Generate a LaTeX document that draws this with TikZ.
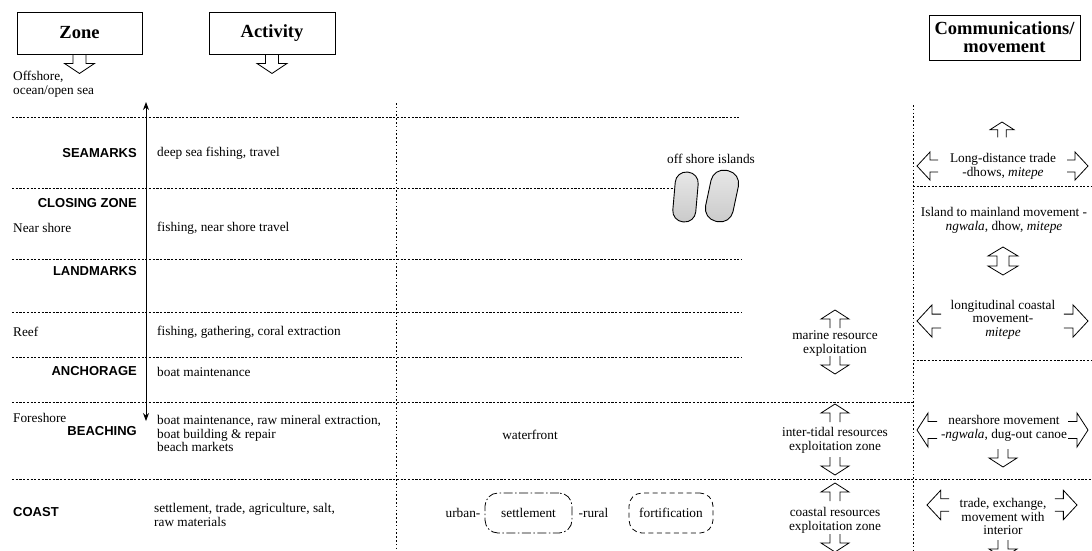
\documentclass[tikz,border=0pt]{standalone}
\usepackage{fontspec}
\setmainfont{Liberation Serif}
\newfontfamily\lsans{Liberation Sans}
\usetikzlibrary{arrows.meta}
\tikzset{
  body/.style={font=\fontsize{13.3}{13.6}\selectfont, inner sep=0pt},
  zlbl/.style={font=\lsans\bfseries\fontsize{13}{14}\selectfont, inner sep=0pt},
  ttl/.style={font=\bfseries\fontsize{18.5}{18}\selectfont, inner sep=0pt, draw, line width=0.9pt},
  hgrid/.style={line width=0.75pt, dash pattern=on 2.2pt off 1.5pt},
  vgrid/.style={line width=0.9pt, dash pattern=on 1.6pt off 2.2pt},
  oarr/.style={line width=0.8pt, line join=miter},
  island/.style={line width=0.9pt, top color=gray!18, bottom color=gray!42},
  arrTitle/.pic={\draw[oarr] (-6.5,0) -- (-6.5,9) -- (-15,9) -- (0,19) -- (15,9) -- (6.5,9) -- (6.5,0);},
  arrUp/.pic={\draw[oarr] (-5,18) -- (-5,9) -- (-14,9) -- (0,0) -- (14,9) -- (5,9) -- (5,18);},
  arrDown/.pic={\draw[oarr] (-5,0) -- (-5,9) -- (-14,9) -- (0,18) -- (14,9) -- (5,9) -- (5,0);},
  arrLeft/.pic={\draw[oarr] (21,-6) -- (13,-6) -- (13,-14) -- (0,0) -- (13,14) -- (13,6) -- (21,6);},
  arrRight/.pic={\draw[oarr] (-21,-6) -- (-13,-6) -- (-13,-14) -- (0,0) -- (-13,14) -- (-13,6) -- (-21,6);},
  arrLeftW/.pic={\draw[oarr] (20,-8.5) -- (11,-8.5) -- (11,-17) -- (0,0) -- (11,17) -- (11,8.5) -- (20,8.5);},
  arrRightW/.pic={\draw[oarr] (-20,-8.5) -- (-11,-8.5) -- (-11,-17) -- (0,0) -- (-11,17) -- (-11,8.5) -- (-20,8.5);},
  arrUD/.pic={\draw[oarr] (0,0) -- (15,9) -- (6,9) -- (6,19) -- (15,19) -- (0,28) -- (-15,19) -- (-6,19) -- (-6,9) -- (-15,9) -- cycle;},
}
\begin{document}
\begin{tikzpicture}[x=1pt, y=-1pt]
\useasboundingbox (0,0) rectangle (1092,550);
\fill[white] (0,0) rectangle (1092,550);

% title boxes
\node[ttl, minimum width=125pt, minimum height=42pt] (zone) at (79.5,33) {Zone};
\node[ttl, minimum width=126pt, minimum height=42pt] (activity) at (272,33) {Activity};
\node[ttl, minimum width=151pt, minimum height=45pt, align=center, font=\bfseries\fontsize{18.5}{18}\selectfont] (comm) at (1004.5,37.5) {Communications/\\movement};
\pic (za) at (zone.south) {arrTitle};
\pic (aa) at (activity.south) {arrTitle};

% grid lines
\draw[hgrid] (12,117) -- (740,117);
\draw[hgrid] (12,188) -- (674,188);
\draw[hgrid] (913,186) -- (1092,186);
\draw[hgrid] (12,259) -- (742,259);
\draw[hgrid] (12,312) -- (742,312);
\draw[hgrid] (12,357) -- (742,357);
\draw[hgrid] (913,360) -- (1092,360);
\draw[hgrid] (12,402) -- (913,402);
\draw[hgrid] (12,479) -- (1092,479);
\draw[vgrid] (396,103) -- (396,550);
\draw[vgrid] (913,105) -- (913,550);

% vertical zone arrow
\coordinate (atop) at (146,102);
\coordinate (abot) at (146,421);
\draw[line width=0.9pt, {Stealth[length=8pt,width=6pt]}-{Stealth[length=8pt,width=6pt]}] (atop) -- (abot);

% zone column
\node[body, anchor=west, align=left] (off) at (13,84) {Offshore,\\ocean/open sea};
\node[zlbl, anchor=east] (seam) at (137,153) {SEAMARKS};
\node[zlbl, anchor=east] (clos) at (137,203) {CLOSING ZONE};
\node[body, anchor=west] (near) at (13,228) {Near shore};
\node[zlbl, anchor=east] (land) at (137,271) {LANDMARKS};
\node[body, anchor=west] (reef) at (13,332) {Reef};
\node[zlbl, anchor=east] (anch) at (137,371) {ANCHORAGE};
\node[body, anchor=west] (fore) at (13,418) {Foreshore};
\node[zlbl, anchor=east] (beach) at (137,431) {BEACHING};
\node[zlbl, anchor=west] (coast) at (13,512) {COAST};

% activity column
\node[body, anchor=west] (act1) at (157,153) {deep sea fishing, travel};
\node[body, anchor=west] (act2) at (157,228) {fishing, near shore travel};
\node[body, anchor=west] (act3) at (157,332) {fishing, gathering, coral extraction};
\node[body, anchor=west] (act4) at (157,372) {boat maintenance};
\node[body, anchor=west, align=left] (act5) at (157,433.5) {boat maintenance, raw mineral extraction,\\boat building \& repair\\beach markets};
\node[body, anchor=west, align=left] (act6) at (154,515) {settlement, trade, agriculture, salt,\\raw materials};

% middle column
\node[body] (osi) at (711,159) {off shore islands};
\draw[island, rounded corners=11pt, rotate around={-5:(685.5,197)}] (674,172) rectangle (697,222);
\draw[island, rounded corners=13pt, rotate around={-12:(722,196)}] (708,170) rectangle (736,222);
\node[body] (wf) at (530,435) {waterfront};
\node[body] (urb) at (463,513) {urban-};
\node[body, draw, line width=0.8pt, rounded corners=13pt, dash pattern=on 9pt off 2.5pt on 1.5pt off 2.5pt, minimum width=87pt, minimum height=40pt] (settle) at (528.5,513) {settlement};
\node[body] (rur) at (593.5,513) {-rural};
\node[body, draw, line width=0.8pt, rounded corners=13pt, dash pattern=on 5pt off 3.5pt, minimum width=84pt, minimum height=40pt] (fort) at (671,513) {fortification};

% resource column
\pic (mu) at (835,310) {arrUp};
\node[body, align=center] (mar) at (835,343.5) {marine resource\\exploitation};
\pic (md) at (835,356) {arrDown};
\pic (iu) at (835,404) {arrUp};
\node[body, align=center] (itz) at (835,440.5) {inter-tidal resources\\exploitation zone};
\pic (id) at (835,457) {arrDown};
\pic (cu) at (835,483) {arrUp};
\node[body, align=center] (crz) at (835,520.5) {coastal resources\\exploitation zone};
\pic (cd) at (835,534) {arrDown};

% communications column
\pic[scale=0.85] (lu) at (1002,122) {arrUp};
\node[body, align=center] (ldt) at (1003,166) {Long-distance trade\\-dhows, \textit{mitepe}};
\pic (ll) at (917,166) {arrLeft};
\pic (lr) at (1088,166) {arrRight};
\node[body, align=center] (itm) at (1004,220) {Island to mainland movement -\\\textit{ngwala}, dhow, \textit{mitepe}};
\pic (ud) at (1003,247) {arrUD};
\node[body, align=center] (lcm) at (1003,319.5) {longitudinal coastal\\movement-\\\textit{mitepe}};
\pic[scale=1.15] (gl) at (917,321) {arrLeft};
\pic[scale=1.15] (gr) at (1088,321) {arrRight};
\node[body, align=center] (nsm) at (1004,428.5) {nearshore movement\\-\textit{ngwala}, dug-out canoe};
\pic (nl) at (917,430) {arrLeftW};
\pic (nr) at (1088,430) {arrRightW};
\pic (nd) at (1003,449) {arrDown};
\node[body, align=center] (tem) at (1003,516.5) {trade, exchange,\\movement with\\interior};
\pic[scale=1.05] (tl) at (927,505) {arrLeft};
\pic[scale=1.05] (tr) at (1077,505) {arrRight};
\pic (td) at (1003,540) {arrDown};
\end{tikzpicture}
\end{document}
